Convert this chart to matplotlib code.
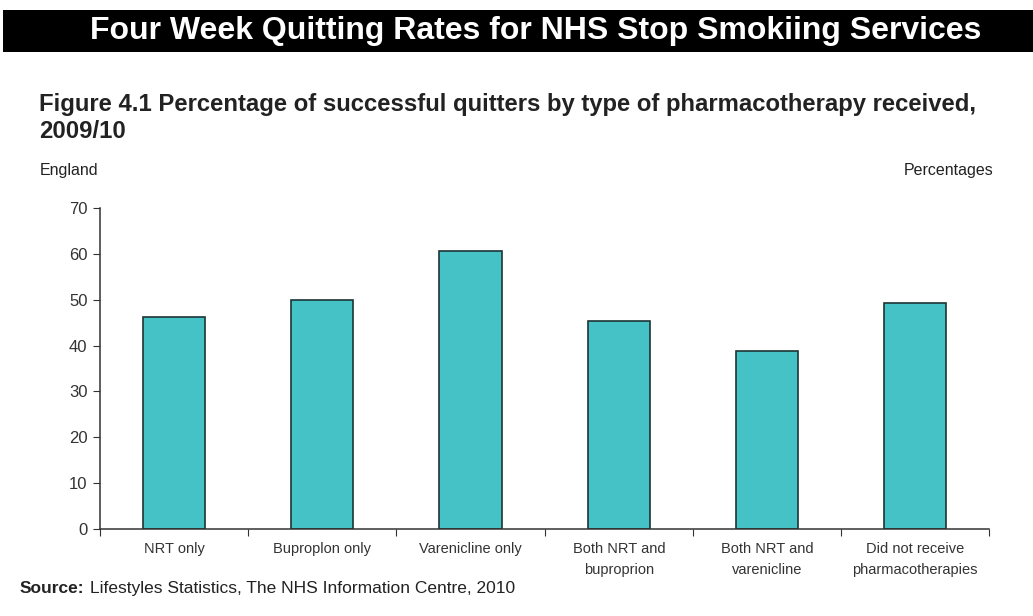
import matplotlib.pyplot as plt
from matplotlib.patches import Rectangle

# Dữ liệu
categories = ['NRT only', 'Buproplon only', 'Varenicline only',
              'Both NRT and\nbuproprion', 'Both NRT and\nvarenicline',
              'Did not receive\npharmacotherapies']
quit_rates = [46.2, 49.9, 60.6, 45.4, 38.8, 49.3]
y_ticks = [0, 10, 20, 30, 40, 50, 60, 70]

plt.rcParams['font.family'] = ['Liberation Sans', 'DejaVu Sans']

fig = plt.figure(figsize=(10.33, 6.16), dpi=100)

# Banner đen phía trên
fig.patches.append(Rectangle((0.003, 0.916), 0.997, 0.068, transform=fig.transFigure,
                             facecolor='black', edgecolor='none', zorder=0))
fig.text(0.519, 0.949, 'Four Week Quitting Rates for NHS Stop Smokiing Services',
         color='white', fontsize=23, fontweight='bold', ha='center', va='center')

fig.text(0.038, 0.830, 'Figure 4.1 Percentage of successful quitters by type of pharmacotherapy received,',
         fontsize=17.2, fontweight='bold', ha='left', va='center', color='#222222')
fig.text(0.038, 0.786, '2009/10', fontsize=17.2, fontweight='bold', ha='left', va='center', color='#222222')
fig.text(0.038, 0.724, 'England', fontsize=11.5, ha='left', va='center', color='#222222')
fig.text(0.962, 0.724, 'Percentages', fontsize=11.5, ha='right', va='center', color='#222222')

fig.text(0.019, 0.045, 'Source:', fontsize=12.5, fontweight='bold', ha='left', va='center', color='#222222')
fig.text(0.087, 0.045, 'Lifestyles Statistics, The NHS Information Centre, 2010',
         fontsize=12.5, ha='left', va='center', color='#222222')

ax = fig.add_axes([0.0968, 0.1412, 0.861, 0.521])
x = list(range(len(categories)))
ax.bar(x, quit_rates, width=0.42, color='#45C2C5', edgecolor='#1c3535', linewidth=1.2)

ax.set_xlim(-0.5, len(categories) - 0.5)
ax.set_ylim(0, 70)
ax.set_yticks(y_ticks)
ax.tick_params(axis='y', direction='out', length=5, labelsize=12, colors='#333333', pad=4)

# nhãn ở giữa, vạch ở ranh giới giữa các nhóm
ax.set_xticks([i - 0.5 for i in range(len(categories) + 1)])
ax.set_xticklabels([])
ax.set_xticks(x, minor=True)
ax.set_xticklabels(categories, minor=True, fontsize=10.5, linespacing=1.65)
ax.tick_params(axis='x', which='major', direction='out', length=5, colors='#333333')
ax.tick_params(axis='x', which='minor', length=0, pad=9, colors='#333333')

for side in ['top', 'right']:
    ax.spines[side].set_visible(False)
for side in ['left', 'bottom']:
    ax.spines[side].set_color('#333333')
    ax.spines[side].set_linewidth(1.1)

fig.savefig('out.png', dpi=100)
